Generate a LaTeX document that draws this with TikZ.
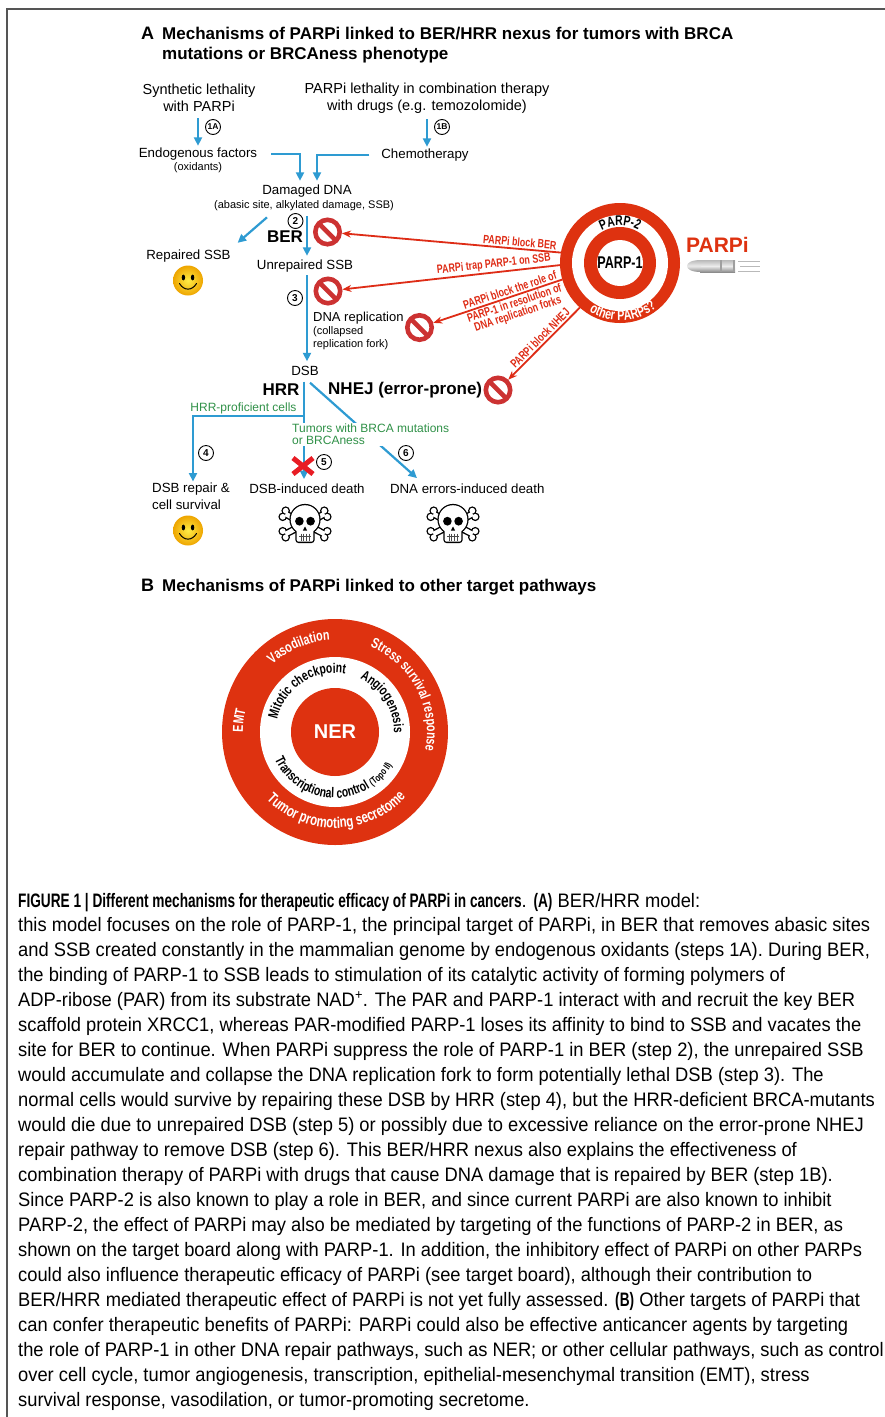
\documentclass[tikz,border=0pt]{standalone}
\usepackage{fontspec}
\setmainfont{Liberation Sans}
\newfontfamily\condfont{Liberation Sans}[FakeStretch=0.74]
\newfontfamily\capfont{Liberation Sans}[FakeStretch=0.94]
\newfontfamily\capboldfont{Liberation Sans}[FakeStretch=0.70]
\usetikzlibrary{arrows.meta,decorations.text,calc}

\definecolor{flowblue}{RGB}{46,155,210}
\definecolor{flowgreen}{RGB}{48,145,72}
\definecolor{boardred}{RGB}{222,50,16}
\definecolor{signred}{RGB}{204,50,50}
\definecolor{hitred}{RGB}{222,44,22}
\definecolor{crossred}{RGB}{232,28,36}
\definecolor{framegray}{RGB}{85,85,85}
\definecolor{smileinner}{RGB}{255,236,70}
\definecolor{smileouter}{RGB}{238,165,0}

\newcommand\fsz[2]{\fontsize{#1}{#2}\selectfont}
% text set along a circular arc: centre x, centre y, radius, start angle, end angle, text
\newcommand\arctext[6]{%
  \path[decorate, decoration={text along path, text align=center, text={#6}}]
    ([shift={(#1,#2)}]#4:#3) arc[start angle=#4, end angle=#5, radius=#3];}

\tikzset{
  txt/.style={inner sep=0pt, outer sep=0pt, font=\fsz{13.3}{16}},
  toptxt/.style={inner sep=0pt, align=center, font=\fsz{14.5}{17}},
  smalltxt/.style={inner sep=0pt, font=\fsz{11}{13}},
  boldlbl/.style={inner sep=0pt, font=\bfseries\fsz{17}{20}},
  greentxt/.style={inner sep=0pt, text=flowgreen, font=\fsz{12}{11.5}},
  flow/.style={draw=flowblue, line width=2.2pt, -{Triangle[length=8.5pt,width=8pt]}},
  hit/.style={draw=hitred, line width=1.8pt, -{Stealth[length=9pt,width=7pt]}},
  hitlbl/.style={inner sep=1.5pt, text=hitred, font=\condfont\bfseries\fsz{12}{11}, align=center},
  stepnum/.style={circle, draw=black, line width=0.9pt, minimum size=15pt, inner sep=0pt,
    font=\bfseries\fsz{10}{10}},
  nosign/.style={circle, draw=signred, line width=4.6pt, minimum size=24.4pt, inner sep=0pt,
    path picture={\draw[signred, line width=4.6pt]
      ([shift={(135:14)}]path picture bounding box.center) --
      ([shift={(-45:14)}]path picture bounding box.center);}},
  capline/.style={anchor=base west, inner sep=0pt, font=\capfont\fsz{19.5}{25}},
  smiley/.pic={
    \shade[inner color=smileinner, outer color=smileouter] (0,1.5) circle (15);
    \fill[black] (-4.6,4.5) ellipse (1.7 and 2.9);
    \fill[black] (4.6,4.5) ellipse (1.7 and 2.9);
    \draw[black, line width=1pt, line cap=round] (-8.5,-1.5) .. controls (-4,-9) and (4,-9) .. (8.5,-1.5);
  },
  skull/.pic={
    % crossbones: dark outline first, white core on top
    \draw[black, line width=7.4pt] (-19.5,9) -- (19.5,-11) (-19.5,-11) -- (19.5,9);
    \foreach \bx/\by in {-19.3/12.3,-22.3/6.2,22.3/-8.2,19.3/-14.3,-22.3/-8.2,-19.3/-14.3,19.3/12.3,22.3/6.2}
      \fill[black] (\bx,\by) circle (4.3);
    \draw[white, line width=4.6pt] (-19.5,9) -- (19.5,-11) (-19.5,-11) -- (19.5,9);
    \foreach \bx/\by in {-19.3/12.3,-22.3/6.2,22.3/-8.2,19.3/-14.3,-22.3/-8.2,-19.3/-14.3,19.3/12.3,22.3/6.2}
      \fill[white] (\bx,\by) circle (2.9);
    % cranium and jaw
    \fill[black] (0,3.5) circle (15.6);
    \fill[black, rounded corners=3pt] (-9.6,-20) rectangle (9.6,-4);
    \fill[white] (0,3.5) circle (14.3);
    \fill[white, rounded corners=2pt] (-8.3,-18.7) rectangle (8.3,-4);
    \fill[black] (-5.6,1.8) ellipse (4.3 and 4.4);
    \fill[black] (5.6,1.8) ellipse (4.3 and 4.4);
    \fill[black] (0,-3.5) -- (-2.1,-7.6) -- (2.1,-7.6) -- cycle;
    \draw[black!70, line width=0.6pt] (-6,-13.5) -- (6,-13.5)
      (-4,-10.5) -- (-4,-17.5) (-1.3,-10.5) -- (-1.3,-18) (1.3,-10.5) -- (1.3,-18) (4,-10.5) -- (4,-17.5);
  }
}

\begin{document}
\begin{tikzpicture}[x=1pt, y=1pt]
\useasboundingbox (0,0) rectangle (885,-1417);
\fill[white] (0,0) rectangle (885,-1417);

% frame
\draw[framegray, line width=1.3pt] (7,-1417) -- (7,-9) -- (885,-9);

% ---------- panel A heading ----------
\node[anchor=base west, inner sep=0pt, font=\bfseries\fsz{18}{18}] (panelA) at (141,-39) {A};
\node[anchor=base west, inner sep=0pt, font=\bfseries\fsz{17}{20}] (titleA1) at (162,-39)
  {Mechanisms of PARPi linked to BER/HRR nexus for tumors with BRCA};
\node[anchor=base west, inner sep=0pt, font=\bfseries\fsz{17}{20}] (titleA2) at (162,-59)
  {mutations or BRCAness phenotype};

% ---------- sources ----------
\node[toptxt] (synth) at (199,-98) {Synthetic lethality\\with PARPi};
\node[toptxt] (combo) at (427,-98) {PARPi lethality in combination therapy\\with drugs (e.g. temozolomide)};
\node[txt] (endo) at (198,-154) {Endogenous factors};
\node[smalltxt] (oxid) at (198,-168) {(oxidants)};
\node[txt] (chemo) at (425,-155) {Chemotherapy};
\node[stepnum, font=\bfseries\fsz{8.5}{8.5}] (s1a) at (213,-127) {1A};
\node[stepnum, font=\bfseries\fsz{8.5}{8.5}] (s1b) at (442,-127) {1B};

\draw[flow] ($(synth.south)+(-1,-6)$) -- ($(endo.north)+(0,2)$);
\draw[flow] ($(combo.south)+(0,-6)$) -- ($(chemo.north)+(2,2)$);

\node[txt] (dmg) at (307,-191) {Damaged DNA};
\node[smalltxt] (dmgsub) at (304,-206) {(abasic site, alkylated damage, SSB)};
\draw[flow] ($(endo.east)+(14,0)$) -| ($(dmg.north)+(-7,4)$);
\draw[flow] ($(chemo.west)+(-12,0)$) -| ($(dmg.north)+(10,4)$);

% ---------- BER ----------
\node[boldlbl] (ber) at (285,-237) {BER};
\node[stepnum] (s2) at (295.5,-221) {2};
\node[txt] (rep) at (188.5,-256) {Repaired SSB};
\pic (smileA) at (188,-282) {smiley};
\node[txt] (unrep) at (305,-266) {Unrepaired SSB};
\draw[flow] ($(dmgsub.south)+(3,-5)$) -- ($(unrep.north)+(2,4)$);
\draw[flow] ($(dmgsub.south)+(-37,-6)$) -- ($(rep.north east)+(7,7)$);

% ---------- replication ----------
\node[stepnum] (s3) at (295,-298) {3};
\node[anchor=west, inner sep=0pt, font=\fsz{13}{15}] (repl) at (313,-318) {DNA replication};
\node[anchor=north west, inner sep=0pt, align=left, font=\fsz{11}{13}] (coll) at (313,-326)
  {(collapsed\\replication fork)};
\node[txt] (dsb) at (305,-371) {DSB};
\draw[flow] ($(unrep.south)+(2,-3)$) -- ($(dsb.north)+(2,5)$);

% ---------- repair choice ----------
\node[boldlbl] (hrr) at (281,-390) {HRR};
\node[boldlbl, anchor=west] (nhej) at (328,-390) {NHEJ (error-prone)};
\node[greentxt] (prof) at (243.5,-408) {HRR-proficient cells};

\node[anchor=north west, inner sep=0pt, align=left, font=\fsz{13.3}{16.8}] (dsbrep) at (152,-482.5)
  {DSB repair \&\\cell survival};
\node[txt] (death1) at (307,-489) {DSB-induced death};
\node[txt, anchor=west] (death2) at (390,-489) {DNA errors-induced death};

\coordinate (jn) at (304,-416);
\draw[flow] (jn) -| ($(dsbrep.north)+(2,1)$);
\draw[flow] ($(dsb.south)+(-1,-6)$) -- ($(jn |- death1.north)+(0,5)$);
\draw[flow] ($(dsb.south)+(5,-7)$) -- ($(death2.north west)+(27,6)$);

\node[greentxt, align=left, anchor=north west, fill=white, inner sep=1pt] (brca) at (291,-423)
  {Tumors with BRCA mutations\\or BRCAness};

\node[stepnum] (s4) at (206,-453) {4};
\node[stepnum] (s5) at (324,-462) {5};
\node[stepnum] (s6) at (406,-453) {6};
\draw[crossred, line width=5pt] (293,-458) -- (313,-474) (293,-474) -- (313,-458);

\pic (smileB) at (188,-532) {smiley};
\pic (skullA) at (305,-523) {skull};
\pic (skullB) at (453,-523) {skull};

% ---------- prohibition signs ----------
\node[nosign] (sign1) at (327.5,-232) {};
\node[nosign] (sign2) at (328,-291) {};
\node[nosign] (sign3) at (419.5,-327.5) {};
\node[nosign] (sign4) at (498,-390) {};

% ---------- target board ----------
\node[circle, fill=boardred, minimum size=120pt, inner sep=0pt, outer sep=0pt] (board) at (620,-263) {};
\fill[white] (board.center) circle (48);
\fill[boardred] (board.center) circle (36);
\fill[white] (board.center) circle (23);
\node[inner sep=0pt, font=\condfont\bfseries\fsz{17}{17}] (parp1) at (620,-263) {PARP-1};
\arctext{620}{-263}{37.5}{150}{30}{|\condfont\bfseries\fsz{14}{14}|PARP-2}
\arctext{620}{-263}{57.5}{203}{344}{|\condfont\bfseries\fsz{14.5}{14.5}\color{white}|other PARPs?}

\node[inner sep=0pt, font=\bfseries\fsz{21}{21}, text=boardred] (parpi) at (717.5,-244.5) {PARPi};
% bullet
\shade[top color=gray!55, bottom color=gray!90, middle color=gray!15] (700,-260) rectangle (735,-272);
\shade[top color=gray!55, bottom color=gray!90, middle color=gray!15]
  (701,-260) .. controls (692,-260) and (687,-262.5) .. (687,-266) .. controls (687,-269.5) and (692,-272) .. (701,-272) -- cycle;
\fill[gray!75] (720,-260) rectangle (722,-272);
\fill[gray!75] (732.5,-260) rectangle (735,-272);
\draw[gray!55, line width=0.8pt] (738,-261) -- (760,-261) (740,-266) -- (760,-266) (738,-271) -- (760,-271);

% ---------- inhibition arrows ----------
\draw[hit] (board.170) -- node[hitlbl, pos=0.19, sloped, above] (lbl1) {PARPi block BER} (sign1);
\draw[hit] (board.182) -- node[hitlbl, pos=0.30, sloped, above] (lbl2) {PARPi trap PARP-1 on SSB} (sign2);
\draw[hit] (board.196) --
  node[hitlbl, pos=0.39, sloped, above] (lbl3a) {PARPi block the role of}
  node[hitlbl, pos=0.39, sloped, below] (lbl3b) {PARP-1 in resolution of\\DNA replication forks} (sign3);
\draw[hit] (board.228) -- node[hitlbl, pos=0.49, sloped, above] (lbl4) {PARPi block NHEJ} (sign4);

% ---------- panel B ----------
\node[anchor=base west, inner sep=0pt, font=\bfseries\fsz{18}{18}] (panelB) at (141,-591) {B};
\node[anchor=base west, inner sep=0pt, font=\bfseries\fsz{17}{20}] (titleB) at (162,-591)
  {Mechanisms of PARPi linked to other target pathways};

\node[circle, fill=boardred, minimum size=226pt, inner sep=0pt] (ringB) at (335,-732) {};
\fill[white] (ringB.center) circle (75);
\node[circle, fill=boardred, minimum size=88pt, inner sep=0pt] (ner) at (335,-732)
  {\color{white}\bfseries\fsz{20}{20}NER};

\arctext{335}{-732}{92}{163}{63}{|\condfont\bfseries\fsz{14.5}{14.5}\color{white}|Vasodilation}
\arctext{335}{-732}{92}{108}{-52}{|\condfont\bfseries\fsz{14.5}{14.5}\color{white}|Stress survival response}
\arctext{335}{-732}{92}{203}{143}{|\condfont\bfseries\fsz{14.5}{14.5}\color{white}|EMT}
\arctext{335}{-732}{96}{186}{356}{|\condfont\bfseries\fsz{15.5}{15.5}\color{white}|Tumor promoting secretome}
\arctext{335}{-732}{59}{194}{54}{|\condfont\bfseries\fsz{14}{14}|Mitotic checkpoint}
\arctext{335}{-732}{59}{92}{-28}{|\condfont\bfseries\fsz{14}{14}|Angiogenesis}
\arctext{335}{-732}{66}{187}{347}{|\condfont\bfseries\fsz{14}{14}|Transcriptional control |\condfont\bfseries\fsz{10}{10}|(Topo II)}

% ---------- caption ----------
\foreach \ln [count=\i] in {
  {{\capboldfont\bfseries FIGURE 1 | Different mechanisms for therapeutic efficacy of PARPi in cancers}. {\capboldfont\bfseries (A)} BER/HRR model:},
  {this model focuses on the role of PARP-1, the principal target of PARPi, in BER that removes abasic sites},
  {and SSB created constantly in the mammalian genome by endogenous oxidants (steps 1A). During BER,},
  {the binding of PARP-1 to SSB leads to stimulation of its catalytic activity of forming polymers of},
  {ADP-ribose (PAR) from its substrate NAD\textsuperscript{+}. The PAR and PARP-1 interact with and recruit the key BER},
  {scaffold protein XRCC1, whereas PAR-modified PARP-1 loses its affinity to bind to SSB and vacates the},
  {site for BER to continue. When PARPi suppress the role of PARP-1 in BER (step 2), the unrepaired SSB},
  {would accumulate and collapse the DNA replication fork to form potentially lethal DSB (step 3). The},
  {normal cells would survive by repairing these DSB by HRR (step 4), but the HRR-deficient BRCA-mutants},
  {would die due to unrepaired DSB (step 5) or possibly due to excessive reliance on the error-prone NHEJ},
  {repair pathway to remove DSB (step 6). This BER/HRR nexus also explains the effectiveness of},
  {combination therapy of PARPi with drugs that cause DNA damage that is repaired by BER (step 1B).},
  {Since PARP-2 is also known to play a role in BER, and since current PARPi are also known to inhibit},
  {PARP-2, the effect of PARPi may also be mediated by targeting of the functions of PARP-2 in BER, as},
  {shown on the target board along with PARP-1. In addition, the inhibitory effect of PARPi on other PARPs},
  {could also influence therapeutic efficacy of PARPi (see target board), although their contribution to},
  {BER/HRR mediated therapeutic effect of PARPi is not yet fully assessed. {\capboldfont\bfseries (B)} Other targets of PARPi that},
  {can confer therapeutic benefits of PARPi: PARPi could also be effective anticancer agents by targeting},
  {the role of PARP-1 in other DNA repair pathways, such as NER; or other cellular pathways, such as control},
  {over cell cycle, tumor angiogenesis, transcription, epithelial-mesenchymal transition (EMT), stress},
  {survival response, vasodilation, or tumor-promoting secretome.}}
  \node[capline] (cap\i) at (18,{-907-24.95*(\i-1)}) {\ln};

\end{tikzpicture}
\end{document}
